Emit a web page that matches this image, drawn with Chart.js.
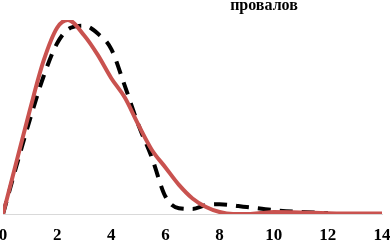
<!DOCTYPE html>
<html><head><meta charset="utf-8">
<script src="https://cdn.jsdelivr.net/npm/chart.js@4"></script>
<style>html,body{margin:0;padding:0;background:#fff}#w{width:390px;height:240px}</style>
</head><body><div id="w"><canvas id="c"></canvas></div>
<script>
const titleText = "провалов";
const xTicks = [0, 2, 4, 6, 8, 10, 12, 14];
const redX = [0, 0.5, 1, 1.5, 2, 2.4, 3, 3.5, 4, 4.5, 5, 5.5, 6, 6.5, 7, 7.5, 8, 8.5, 9, 9.5, 10, 11, 12, 13, 14];
const redY = [0, 0.27, 0.54, 0.79, 0.96, 1.0, 0.92, 0.82, 0.70, 0.60, 0.46, 0.33, 0.24, 0.15, 0.08, 0.036, 0.01, 0, 0, 0.005, 0.01, 0.008, 0.004, 0.002, 0.002];
const blackX = [0, 0.5, 1, 1.5, 2, 2.5, 3, 3.5, 4, 4.5, 5, 5.5, 6, 6.5, 7, 7.5, 8, 9, 10, 11, 12];
const blackY = [0, 0.25, 0.49, 0.71, 0.88, 0.96, 0.97, 0.93, 0.85, 0.66, 0.46, 0.29, 0.09, 0.03, 0.026, 0.046, 0.05, 0.036, 0.02, 0.01, 0.005];

const toPts = (xs, ys) => xs.map((x, i) => ({x: x, y: ys[i]}));

const titlePlugin = {
  id: 'topText',
  afterDraw(chart) {
    const ctx = chart.ctx;
    ctx.save();
    ctx.font = 'bold 16px "Liberation Serif"';
    ctx.fillStyle = '#000';
    ctx.textAlign = 'center';
    ctx.textBaseline = 'alphabetic';
    ctx.fillText(titleText, 264, 10);
    ctx.restore();
  }
};

new Chart(document.getElementById('c'), {
  type: 'line',
  data: {
    datasets: [
      {data: toPts(redX, redY), borderColor: '#c9524f', borderWidth: 4, pointRadius: 0, tension: 0.4, cubicInterpolationMode: 'monotone', fill: false},
      {data: toPts(blackX, blackY), borderColor: '#000', borderWidth: 4, borderDash: [13, 9], pointRadius: 0, tension: 0.4, cubicInterpolationMode: 'monotone', fill: false}
    ]
  },
  options: {
    responsive: true, maintainAspectRatio: false, animation: false,
    layout: {padding: {left: 0, right: 0, top: 20, bottom: 0}},
    plugins: {legend: {display: false}, tooltip: {enabled: false}},
    scales: {
      x: {type: 'linear', min: 0, max: 14,
        afterBuildTicks: s => { s.ticks = xTicks.map(v => ({value: v})); },
        afterFit: s => { s.paddingLeft = 3; s.paddingRight = 8; s.height = 26; },
        grid: {display: false, drawTicks: false},
        border: {display: true, color: '#d9d9d9', width: 1},
        ticks: {color: '#000', padding: 13, maxRotation: 0, font: {family: 'Liberation Serif', weight: 'bold', size: 17, lineHeight: 1}}
      },
      y: {display: false, min: 0, max: 1}
    }
  },
  plugins: [titlePlugin]
});
</script></body></html>
